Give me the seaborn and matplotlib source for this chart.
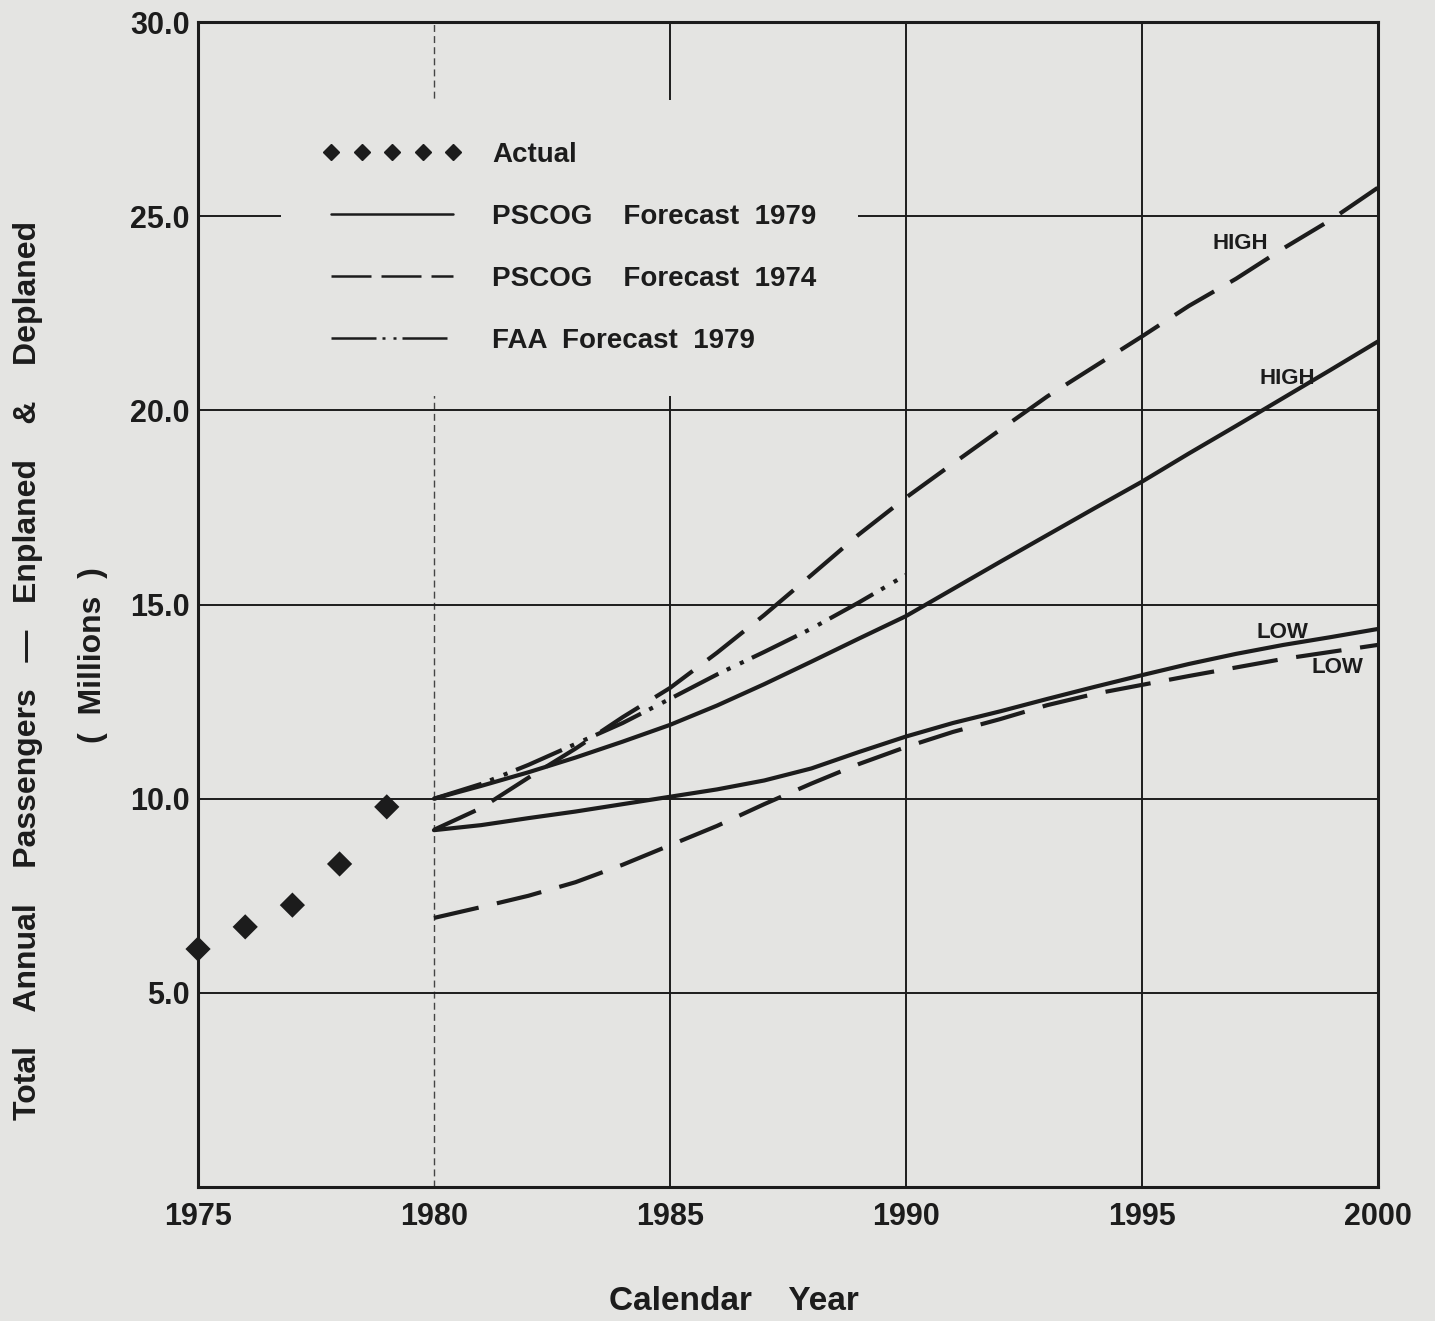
import matplotlib
matplotlib.use("Agg")
import matplotlib.pyplot as plt
from matplotlib.lines import Line2D
import seaborn as sns
import pandas as pd

# actual annual passengers (millions)
actual_years = [1975, 1976, 1977, 1978, 1979]
actual = [6.13, 6.70, 7.26, 8.32, 9.79]

# forecasts
fc_years = list(range(1980, 2001))
pscog79_high = [10.0, 10.33, 10.68, 11.06, 11.47, 11.9, 12.4, 12.95, 13.53, 14.12, 14.7,
                15.4, 16.1, 16.79, 17.48, 18.16, 18.89, 19.6, 20.32, 21.04, 21.77]
pscog79_low = [9.19, 9.32, 9.5, 9.67, 9.86, 10.05, 10.24, 10.47, 10.78, 11.2, 11.6,
               11.95, 12.25, 12.57, 12.88, 13.18, 13.47, 13.73, 13.96, 14.16, 14.37]
pscog74_high = [9.2, 9.76, 10.54, 11.29, 12.1, 12.85, 13.76, 14.73, 15.76, 16.8, 17.75,
                18.63, 19.5, 20.36, 21.13, 21.9, 22.69, 23.39, 24.17, 24.9, 25.73]
pscog74_low = [6.93, 7.21, 7.5, 7.85, 8.3, 8.8, 9.3, 9.86, 10.39, 10.89, 11.33,
               11.72, 12.05, 12.41, 12.7, 12.93, 13.16, 13.38, 13.6, 13.78, 13.96]

faa_years = list(range(1980, 1991))
faa79 = [10.0, 10.38, 10.87, 11.41, 11.95, 12.57, 13.2, 13.78, 14.38, 15.05, 15.76]

x_ticks = [1975, 1980, 1985, 1990, 1995, 2000]
y_ticks = [0, 5, 10, 15, 20, 25, 30]
y_ticklabels = ["", "5.0", "10.0", "15.0", "20.0", "25.0", "30.0"]

paper = "#e4e4e2"
ink = "#1c1c1c"

sns.set_theme(style="white")
plt.rcParams["font.family"] = ["Liberation Sans", "DejaVu Sans"]
plt.rcParams["font.weight"] = "bold"

# long table for seaborn
rows = []
for name, src, yrs, vals in [
    ("79 high", "PSCOG 1979", fc_years, pscog79_high),
    ("79 low", "PSCOG 1979", fc_years, pscog79_low),
    ("74 high", "PSCOG 1974", fc_years, pscog74_high),
    ("74 low", "PSCOG 1974", fc_years, pscog74_low),
    ("faa", "FAA 1979", faa_years, faa79),
]:
    for yr, v in zip(yrs, vals):
        rows.append({"series": name, "source": src, "year": yr, "value": v})
df = pd.DataFrame(rows)

fig = plt.figure(figsize=(14.35, 13.21), dpi=100, facecolor=paper)
ax = fig.add_subplot(111)
fig.subplots_adjust(left=0.138, right=0.960, bottom=0.1014, top=0.9833)
ax.set_facecolor(paper)

line_dashes = {
    "PSCOG 1979": "",
    "PSCOG 1974": (11, 4.5),
    "FAA 1979": (12, 2.2, 1, 2.5, 1, 2.2),
}
sns.lineplot(data=df, x="year", y="value", units="series", estimator=None,
             style="source", dashes=line_dashes, color=ink, lw=3,
             legend=False, ax=ax, zorder=4)

sns.scatterplot(x=actual_years, y=actual, marker="D", s=165, color=ink,
                edgecolor="none", ax=ax, zorder=5, clip_on=False)

ax.set_xlim(1975, 2000)
ax.set_ylim(0, 30)
ax.set_xticks(x_ticks)
ax.set_yticks(y_ticks)
ax.set_yticklabels(y_ticklabels)
ax.set_xlabel("")
ax.set_ylabel("")
ax.tick_params(axis="both", length=0, labelsize=22, colors=ink)
ax.tick_params(axis="x", pad=11)
ax.tick_params(axis="y", pad=6)

ax.grid(True, color=ink, lw=1.4)
ax.set_axisbelow(True)
# the 1980 line is only faintly dashed in the original
ax.get_xgridlines()[1].set(linestyle=(0, (5, 3)), lw=1.0, alpha=0.8)

for sp in ax.spines.values():
    sp.set_visible(True)
    sp.set_color(ink)
    sp.set_linewidth(2.2)

# curve labels
lab = dict(fontsize=16, fontweight="bold", color=ink, ha="center", va="center")
ax.text(1997.08, 24.31, "HIGH", **lab)
ax.text(1998.09, 20.83, "HIGH", **lab)
ax.text(1997.99, 14.29, "LOW", **lab)
ax.text(1999.15, 13.37, "LOW", **lab)

handles = [
    Line2D([], [], ls="none", marker="D", ms=8.5, color=ink),
    Line2D([], [], color=ink, lw=1.8),
    Line2D([], [], color=ink, lw=1.8, dashes=(16, 4)),
    Line2D([], [], color=ink, lw=1.8, dashes=(18, 2.4, 1.2, 3.2, 1.2, 2.4)),
]
labels = ["Actual", "PSCOG    Forecast  1979", "PSCOG    Forecast  1974",
          "FAA  Forecast  1979"]
leg = ax.legend(handles, labels, loc="upper left", bbox_to_anchor=(0.0703, 0.933),
                borderaxespad=0, borderpad=1.5, numpoints=5, handlelength=5.0,
                handletextpad=1.1, labelspacing=1.3, fontsize=20, frameon=True,
                facecolor=paper, edgecolor="none", framealpha=1, fancybox=False)
for t in leg.get_texts():
    t.set_color(ink)
    t.set_fontweight("bold")

fig.text(28 / 1435, 1 - 670 / 1321,
         "Total    Annual    Passengers   —   Enplaned    &    Deplaned",
         rotation=90, ha="center", va="center", fontsize=23, fontweight="bold", color=ink)
fig.text(93 / 1435, 1 - 655 / 1321, "(  Millions  )", rotation=90,
         ha="center", va="center", fontsize=23, fontweight="bold", color=ink)
fig.text(734 / 1435, 1 - 1302 / 1321, "Calendar    Year", ha="center", va="center",
         fontsize=24, fontweight="bold", color=ink)

fig.savefig("out.png", dpi=100, facecolor=paper)
